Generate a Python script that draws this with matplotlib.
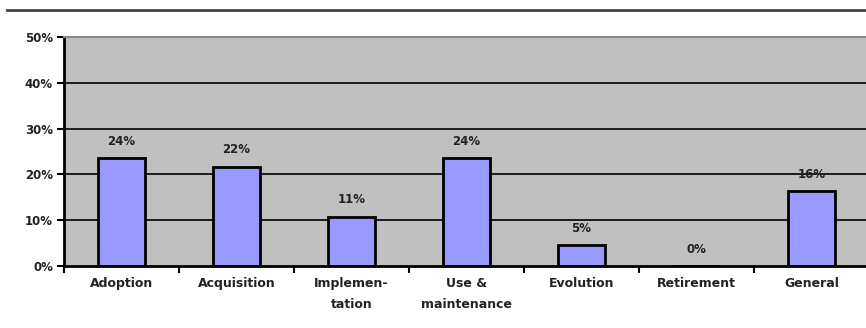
import matplotlib
matplotlib.use("Agg")
import matplotlib.pyplot as plt
from matplotlib.lines import Line2D

categories = ["Adoption", "Acquisition", "Implemen-\ntation", "Use &\nmaintenance",
              "Evolution", "Retirement", "General"]
values = [23.6, 21.7, 10.8, 23.6, 4.6, 0.0, 16.4]
yticks = [0, 10, 20, 30, 40, 50]

plt.rcParams['font.family'] = ['DejaVu Sans']

fig = plt.figure(figsize=(8.66, 3.28), dpi=100)
ax = fig.add_axes([64/866, 62/328, 805/866, 229/328])
ax.set_facecolor('#C0C0C0')

x = list(range(len(categories)))
for yv in yticks[1:-1]:
    ax.axhline(yv, color='black', lw=1.2, zorder=1)

ax.bar(x, values, width=0.41, color='#9999FF', edgecolor='black', linewidth=2.0, zorder=2)

for xi, v in zip(x, values):
    ax.annotate(f"{round(v):d}%", (xi, v), xytext=(0, 12), textcoords='offset points',
                ha='center', va='center', fontsize=8.5, fontweight='bold', color='#222222')

ax.set_xlim(-0.5, 6.5)
ax.set_ylim(0, 50)
ax.set_yticks(yticks)
ax.set_yticklabels([f"{t}%" for t in yticks], fontsize=8.5, fontweight='bold', color='#222222')
ax.set_xticks([i + 0.5 for i in range(-1, 7)])
ax.set_xticklabels([])
ax.set_xticks(x, minor=True)
ax.set_xticklabels(categories, minor=True, fontsize=9, fontweight='bold', color='#222222',
                   linespacing=1.75)
ax.tick_params(axis='x', which='minor', length=0, pad=8)
ax.tick_params(axis='x', which='major', length=5, width=1.5, direction='out', color='black')
ax.tick_params(axis='y', length=5, width=1.5, direction='out', color='black', pad=3)

for s in ['left', 'bottom']:
    ax.spines[s].set_color('black')
    ax.spines[s].set_linewidth(2.0)
ax.spines['top'].set_color('#888888')
ax.spines['top'].set_linewidth(1.5)
ax.spines['right'].set_visible(False)

fig.add_artist(Line2D([7/866, 1.0], [1 - 10/328, 1 - 10/328], transform=fig.transFigure,
                      color='#444444', lw=2))

fig.savefig("out.png", dpi=100)
